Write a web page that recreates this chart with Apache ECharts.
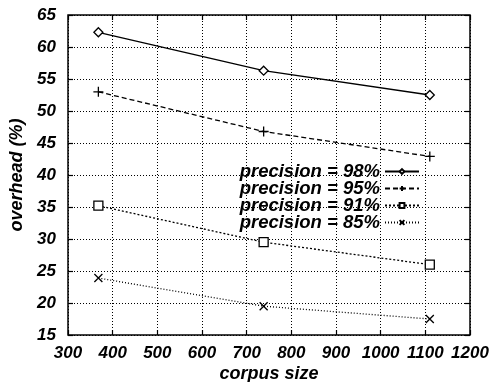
<!DOCTYPE html>
<html>
<head>
<meta charset="utf-8">
<script src="https://cdn.jsdelivr.net/npm/echarts@6/dist/echarts.min.js"></script>
<style>
  html, body { margin: 0; padding: 0; background: #fff; }
  #chart { width: 503px; height: 382px; }
</style>
</head>
<body>
<div id="chart"></div>
<script>
// corpus size of each measurement
const corpusSizes = [368, 738, 1110]
// overhead (%) per precision level
const prec98 = [62.3, 56.3, 52.5]
const prec95 = [53.0, 46.8, 42.9]
const prec91 = [35.2, 29.5, 26.0]
const prec85 = [23.9, 19.5, 17.5]
const seriesNames = ['precision = 98%', 'precision = 95%', 'precision = 91%', 'precision = 85%']

const FONT = 'Liberation Sans'
const plusPath = 'path://M0,5 L10,5 M5,0 L5,10'
const crossPath = 'path://M0,0 L10,10 M10,0 L0,10'

const chart = echarts.init(document.getElementById('chart'))

const pairs = (ys) => corpusSizes.map((x, i) => [x, ys[i]])

const mkSeries = (name, ys, lineType, symbol, size) => ({
  name,
  type: 'line',
  data: pairs(ys),
  symbol,
  symbolSize: size,
  showSymbol: true,
  lineStyle: { color: '#000', width: 1.3, type: lineType },
  itemStyle: { color: '#fff', borderColor: '#000', borderWidth: 1.3 },
  emphasis: { disabled: true },
  z: 5
})

const tickStyle = { show: true, inside: true, length: 5, lineStyle: { color: '#000', width: 1.2 } }
const gridLine = { show: true, lineStyle: { color: '#000', type: [1, 2], width: 1 } }
const boldItalic = (size) => ({ fontFamily: FONT, fontStyle: 'italic', fontWeight: 'bold', fontSize: size, color: '#000' })

chart.setOption({
  animation: false,
  backgroundColor: '#fff',
  grid: {
    left: 68, right: 33, top: 15, bottom: 47,
    outerBoundsMode: 'none',
    show: true, borderColor: '#000', borderWidth: 1.5, backgroundColor: 'transparent'
  },
  legend: {
    orient: 'vertical',
    right: 78,
    top: 157,
    align: 'right',
    itemWidth: 34,
    itemHeight: 6,
    itemGap: -2,
    textStyle: boldItalic(18.5),
    data: seriesNames
  },
  xAxis: [
    {
      type: 'value', min: 300, max: 1200, interval: 100,
      name: 'corpus size', nameLocation: 'middle', nameGap: 30,
      nameMoveOverlap: false,
      nameTextStyle: boldItalic(18),
      axisLine: { show: false },
      axisTick: tickStyle,
      axisLabel: Object.assign({ margin: 10, hideOverlap: false, formatter: (v) => String(v) }, boldItalic(17)),
      splitLine: gridLine
    },
    {
      type: 'value', position: 'top', min: 300, max: 1200, interval: 100,
      axisLine: { show: false }, axisTick: tickStyle, axisLabel: { show: false }, splitLine: { show: false }
    }
  ],
  yAxis: [
    {
      type: 'value', min: 15, max: 65, interval: 5,
      name: 'overhead (%)', nameLocation: 'middle', nameGap: 42,
      nameMoveOverlap: false,
      nameTextStyle: boldItalic(18),
      axisLine: { show: false },
      axisTick: tickStyle,
      axisLabel: Object.assign({ margin: 12 }, boldItalic(17)),
      splitLine: gridLine
    },
    {
      type: 'value', position: 'right', min: 15, max: 65, interval: 5,
      axisLine: { show: false }, axisTick: tickStyle, axisLabel: { show: false }, splitLine: { show: false }
    }
  ],
  series: [
    mkSeries(seriesNames[0], prec98, 'solid', 'diamond', 9),
    mkSeries(seriesNames[1], prec95, [5, 3], plusPath, 10),
    mkSeries(seriesNames[2], prec91, [2, 2], 'rect', 9),
    mkSeries(seriesNames[3], prec85, [1, 2], crossPath, 8)
  ]
})
</script>
</body>
</html>
